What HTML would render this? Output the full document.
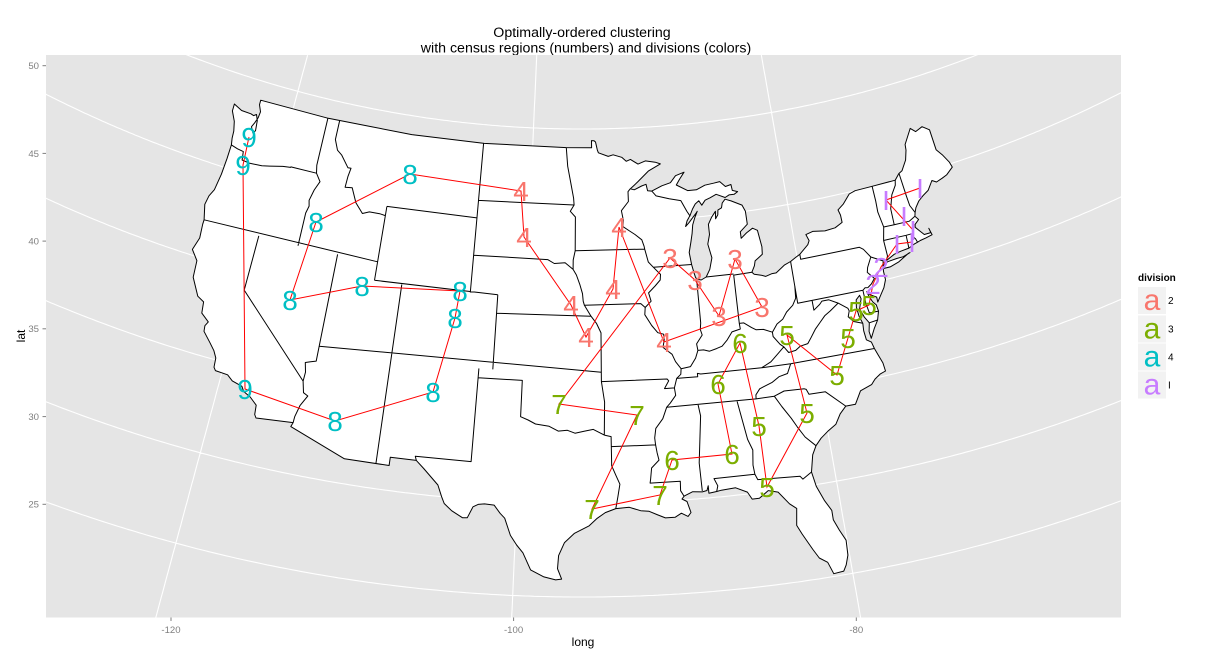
<!DOCTYPE html>
<html><head><meta charset="utf-8">
<style>
html,body{margin:0;padding:0;background:#fff;width:1212px;height:660px;overflow:hidden;}
svg{display:block;}
text{font-family:"Liberation Sans",Arial,sans-serif;}
</style></head>
<body>
<svg width="1212" height="660" viewBox="0 0 1212 660" xmlns="http://www.w3.org/2000/svg">
<defs><clipPath id="pc"><rect x="46" y="55" width="1075" height="562.5"/></clipPath></defs>
<rect x="0" y="0" width="1212" height="660" fill="#fff"/>
<text x="582" y="37" font-size="14.2" text-anchor="middle" fill="#000">Optimally-ordered clustering</text>
<text x="586" y="52.5" font-size="14.2" text-anchor="middle" fill="#000">with census regions (numbers) and divisions (colors)</text>
<rect x="46" y="55" width="1075" height="562.5" fill="#E5E5E5"/>
<g clip-path="url(#pc)">
<path id="grid" fill="none" stroke="#fff" stroke-width="1.1"/>
<path id="land" fill="#fff" stroke="#000" stroke-width="1" stroke-linejoin="round"/>
<path id="li" fill="#fff" stroke="#000" stroke-width="1" stroke-linejoin="round"/>
<path id="bord" fill="none" stroke="#000" stroke-width="1" stroke-linejoin="round"/>
<polyline fill="none" stroke="#FF0000" stroke-width="1" points="249,137 243,165 245,389 335,421 433,392 455,318 460,291 362,286 290,300 316,222 410,174 521,191 524,237 571,305 586,337 613,289 619,227 664,342 762,307 735,259 719,316 695,280 670,258 559,404 637,415 592,509 660,495 672,460 732,454 718,384 740,343 759,426 767,487 807,413 787,335 837,375 848,338 856,311 869,305 873,284 881,267 897,244 912,242 913,230 886,200 920,188"/>
<g font-size="28" text-anchor="middle" fill="#00BFC4">
<text x="249" y="147">9</text><text x="243" y="175">9</text><text x="410" y="184">8</text><text x="316" y="232">8</text><text x="290" y="310">8</text><text x="362" y="296">8</text><text x="460" y="301">8</text><text x="455" y="328">8</text><text x="245" y="399">9</text><text x="335" y="431">8</text><text x="433" y="402">8</text>
</g>
<g font-size="28" text-anchor="middle" fill="#F8766D">
<text x="521" y="201">4</text><text x="524" y="247">4</text><text x="571" y="315">4</text><text x="586" y="347">4</text><text x="613" y="299">4</text><text x="619" y="237">4</text><text x="664" y="352">4</text><text x="670" y="268">3</text><text x="695" y="290">3</text><text x="719" y="326">3</text><text x="735" y="269">3</text><text x="762" y="317">3</text>
</g>
<g font-size="28" text-anchor="middle" fill="#7CAE00">
<text x="559" y="414">7</text><text x="637" y="425">7</text><text x="592" y="519">7</text><text x="660" y="505">7</text><text x="672" y="470">6</text><text x="732" y="464">6</text><text x="718" y="394">6</text><text x="740" y="353">6</text><text x="759" y="436">5</text><text x="767" y="497">5</text><text x="807" y="423">5</text><text x="837" y="385">5</text><text x="787" y="345">5</text><text x="848" y="348">5</text><text x="856" y="321">5</text><text x="869" y="315">5</text>
</g>
<g font-size="28" text-anchor="middle" fill="#C77CFF">
<text x="886" y="210">I</text><text x="920" y="198">I</text><text x="904" y="226">I</text><text x="913" y="240">I</text><text x="897" y="254">I</text><text x="912" y="252">I</text><text x="873" y="294">2</text><text x="881" y="277">2</text>
</g>
</g>
<g stroke="#7F7F7F" stroke-width="1">
<line x1="42.5" y1="65.7" x2="46" y2="65.7"/><line x1="42.5" y1="153.4" x2="46" y2="153.4"/><line x1="42.5" y1="241.1" x2="46" y2="241.1"/><line x1="42.5" y1="328.8" x2="46" y2="328.8"/><line x1="42.5" y1="416.6" x2="46" y2="416.6"/><line x1="42.5" y1="504.3" x2="46" y2="504.3"/>
<line x1="171" y1="617.5" x2="171" y2="621" /><line x1="513.6" y1="617.5" x2="513.6" y2="621"/><line x1="856.3" y1="617.5" x2="856.3" y2="621"/>
</g>
<g font-size="9.6" fill="#7F7F7F" text-anchor="end">
<text x="39" y="69">50</text><text x="39" y="157">45</text><text x="39" y="244.5">40</text><text x="39" y="332">35</text><text x="39" y="420">30</text><text x="39" y="507.7">25</text>
</g>
<g font-size="9.6" fill="#7F7F7F" text-anchor="middle">
<text x="171" y="633">-120</text><text x="513.6" y="633">-100</text><text x="856.3" y="633">-80</text>
</g>
<text x="583" y="646" font-size="12" text-anchor="middle" fill="#000">long</text>
<text x="0" y="0" font-size="12" text-anchor="middle" fill="#000" transform="translate(25,336) rotate(-90)">lat</text>
<text x="1138" y="281" font-size="10" font-weight="bold" fill="#000">division</text>
<g fill="#F2F2F2">
<rect x="1138" y="287" width="28" height="27"/><rect x="1138" y="315.5" width="28" height="27"/><rect x="1138" y="343.5" width="28" height="27"/><rect x="1138" y="371.5" width="28" height="27"/>
</g>
<g font-size="30" text-anchor="middle">
<text x="1152" y="310" fill="#F8766D">a</text><text x="1152" y="338.5" fill="#7CAE00">a</text><text x="1152" y="366.5" fill="#00BFC4">a</text><text x="1152" y="394.5" fill="#C77CFF">a</text>
</g>
<g font-size="10" fill="#000">
<text x="1168" y="304">2</text><text x="1168" y="332.5">3</text><text x="1168" y="360.5">4</text><text x="1168" y="388.5">I</text>
</g>
</svg>
<script>
(function(){
function P(lo,la){var r=1090+(50-la)*18.72,t=(-2.55+0.628*(lo+100))*Math.PI/180;return [582+r*Math.sin(t),-961+r*Math.cos(t)];}
function ln(pts,close){return pts.map(function(p,i){var q=P(p[0],p[1]);return (i?'L':'M')+q[0].toFixed(1)+' '+q[1].toFixed(1);}).join('')+(close?'Z':'');}
function inside(q){return q[0]>=42&&q[0]<=1125&&q[1]>=51&&q[1]<=622;}
var g='';
function addPts(gen){var on=false;gen.forEach(function(q){if(inside(q)){g+=(on?'L':'M')+q[0].toFixed(1)+' '+q[1].toFixed(1);on=true;}else on=false;});}
[25,30,35,40,45,50].forEach(function(la){var a=[];for(var lo=-160;lo<=-40;lo+=0.25)a.push(P(lo,la));addPts(a);});
[-120,-100,-80].forEach(function(lo){var a=[];for(var la=0;la<=70;la+=0.25)a.push(P(lo,la));addPts(a);});
document.getElementById('grid').setAttribute('d',g);
var outline=[[-124.72,48.38],[-124.0,48.17],[-123.2,48.15],[-122.95,48.1],[-122.75,48.2],[-122.55,47.9],[-122.45,47.35],[-122.6,47.2],[-122.85,47.5],[-122.7,47.75],[-122.55,48.05],[-122.5,48.4],[-122.75,48.75],[-122.76,49.0],
[-117.0,49.0],[-110.0,49.0],[-104.0,49.0],[-97.23,49.0],[-95.15,49.0],[-95.15,49.38],[-94.95,49.37],[-94.82,49.3],[-94.68,48.88],[-94.6,48.72],[-93.8,48.52],[-93.4,48.6],[-92.7,48.45],[-92.35,48.23],[-92.0,48.32],[-91.4,48.05],[-90.8,48.2],[-90.0,48.1],[-89.6,47.99],
[-90.6,47.65],[-91.5,47.1],[-92.1,46.75],
[-91.8,46.69],[-91.2,46.87],[-90.85,46.95],[-90.75,46.6],[-90.42,46.57],
[-89.6,46.82],[-88.9,46.95],[-88.45,47.3],[-87.75,47.45],[-88.15,47.1],[-88.45,46.8],[-87.6,46.45],[-86.9,46.45],[-86.2,46.65],[-85.5,46.7],[-85.0,46.75],[-84.6,46.45],[-84.15,46.52],[-84.1,46.2],[-83.7,46.1],[-84.0,45.98],[-84.4,45.98],[-84.73,45.87],
[-85.4,46.1],[-85.9,45.95],[-86.3,45.85],[-86.6,45.6],[-86.8,45.85],[-87.1,45.7],[-87.35,45.45],[-87.6,45.1],
[-87.85,44.85],[-88.0,44.55],[-87.7,44.75],[-87.45,44.95],[-87.05,45.25],[-87.0,45.3],[-87.25,44.95],[-87.45,44.6],[-87.55,44.15],[-87.7,43.7],[-87.9,43.15],[-87.8,42.5],
[-87.68,42.05],[-87.6,41.8],[-87.52,41.7],[-87.2,41.63],[-86.82,41.76],
[-86.5,42.15],[-86.25,42.75],[-86.45,43.5],[-86.25,44.0],[-86.25,44.55],[-85.95,44.9],[-85.6,45.2],[-85.65,44.8],[-85.45,45.0],[-85.4,45.25],[-85.1,45.35],[-85.0,45.6],[-84.75,45.78],
[-84.3,45.65],[-83.5,45.35],[-83.3,45.0],[-83.3,44.3],[-83.9,43.95],[-83.9,43.6],[-83.45,43.85],[-82.95,44.05],[-82.6,43.9],[-82.45,43.0],[-82.5,42.6],[-82.8,42.45],[-83.1,42.3],[-83.2,42.05],[-83.45,41.73],
[-83.3,41.6],[-82.8,41.5],[-82.5,41.4],[-82.0,41.5],[-81.7,41.5],[-81.0,41.85],[-80.52,41.98],[-80.1,42.15],[-79.76,42.27],[-79.05,42.7],[-78.9,42.9],[-79.05,43.25],
[-78.5,43.35],[-77.6,43.25],[-76.8,43.3],[-76.2,43.5],[-76.2,43.9],[-76.3,44.2],[-75.8,44.45],[-75.2,44.9],[-74.7,45.0],
[-73.34,45.01],[-71.5,45.01],[-71.1,45.3],[-70.8,45.4],[-70.3,45.9],[-70.05,46.4],[-70.0,46.7],[-69.24,47.45],[-68.9,47.2],[-68.3,47.35],[-67.8,47.07],[-67.78,45.95],[-67.45,45.6],[-67.1,45.1],
[-67.0,44.8],[-67.6,44.5],[-68.0,44.4],[-68.5,44.3],[-68.8,44.45],[-69.3,44.0],[-69.8,43.8],[-70.2,43.6],[-70.55,43.3],[-70.7,43.07],[-70.8,42.87],[-70.6,42.65],[-70.95,42.45],[-71.0,42.3],[-70.7,42.0],[-70.5,41.8],[-70.0,41.8],[-70.05,42.05],[-69.95,41.67],[-70.45,41.6],[-70.9,41.55],[-71.12,41.5],[-71.4,41.45],[-71.85,41.32],[-72.5,41.27],[-73.0,41.2],[-73.65,40.98],[-73.85,40.82],[-74.0,40.7],
[-74.05,40.45],[-74.05,40.0],[-74.3,39.6],[-74.6,39.3],[-74.95,38.93],[-74.95,39.2],[-75.35,39.4],[-75.55,39.6],[-75.45,39.3],[-75.3,39.0],[-75.1,38.8],[-75.05,38.45],[-75.25,38.0],[-75.6,37.6],[-75.95,37.12],
[-76.0,37.5],[-75.85,37.95],[-76.1,38.3],[-76.3,38.8],[-76.05,39.3],[-76.1,39.5],[-76.4,39.3],[-76.5,38.9],[-76.45,38.4],[-76.3,38.0],[-76.35,37.6],[-76.3,37.1],[-76.0,36.92],
[-75.9,36.55],[-75.75,36.2],[-75.55,35.7],[-75.5,35.25],[-75.9,35.15],[-76.3,34.95],[-76.6,34.7],[-77.4,34.5],[-77.9,33.85],[-78.55,33.85],
[-79.0,33.5],[-79.4,33.0],[-80.0,32.7],[-80.5,32.4],[-80.9,32.05],[-81.2,31.6],[-81.45,30.7],
[-81.3,29.9],[-80.95,29.1],[-80.6,28.5],[-80.6,28.0],[-80.35,27.4],[-80.05,26.8],[-80.1,26.0],[-80.3,25.5],[-80.5,25.2],[-81.1,25.15],[-81.35,25.8],[-81.8,26.1],[-82.1,26.6],[-82.6,27.5],[-82.85,28.0],[-82.7,28.9],[-83.1,29.2],[-83.7,29.9],[-84.3,30.05],[-84.9,29.7],[-85.35,29.7],[-85.6,30.1],[-86.3,30.4],[-87.2,30.35],[-87.5,30.3],
[-88.0,30.25],[-88.0,30.65],[-88.1,30.4],[-88.4,30.35],[-89.0,30.4],[-89.55,30.2],
[-89.7,30.05],[-89.4,29.9],[-89.2,29.3],[-89.4,29.1],[-89.8,29.3],[-90.2,29.1],[-90.8,29.1],[-91.3,29.3],[-91.8,29.5],[-92.3,29.55],[-93.0,29.75],[-93.84,29.7],
[-94.5,29.5],[-95.0,29.2],[-95.5,28.8],[-96.4,28.4],[-97.0,27.9],[-97.35,27.2],[-97.4,26.5],[-97.15,25.95],
[-97.5,25.9],[-98.2,26.05],[-99.0,26.4],[-99.5,27.3],[-99.9,27.7],[-100.3,28.2],[-100.7,29.1],[-101.0,29.35],[-101.4,29.77],[-102.0,29.8],[-102.4,29.75],[-102.7,29.6],[-103.0,29.0],[-103.3,28.98],[-104.0,29.3],[-104.5,29.65],[-104.7,30.0],[-105.0,30.6],[-106.0,31.4],[-106.53,31.78],
[-108.2,31.78],[-108.2,31.33],[-111.07,31.33],[-114.81,32.49],[-114.72,32.72],[-117.12,32.53],
[-117.25,32.7],[-117.3,33.2],[-117.8,33.55],[-118.3,33.75],[-118.5,34.0],[-119.2,34.15],[-119.6,34.4],[-120.45,34.45],[-120.6,34.6],[-120.65,35.1],[-120.9,35.45],[-121.3,35.8],[-121.9,36.3],[-121.95,36.6],[-121.8,36.85],[-122.4,37.2],[-122.5,37.8],[-123.0,38.0],[-123.7,38.9],[-123.8,39.8],[-124.35,40.3],[-124.1,41.0],[-124.2,41.75],[-124.2,42.0],
[-124.5,42.8],[-124.4,43.3],[-124.15,43.7],[-124.0,44.6],[-123.95,45.5],[-123.95,46.25],
[-124.05,46.6],[-124.1,47.0],[-124.3,47.5],[-124.7,48.0]];
document.getElementById('land').setAttribute('d',ln(outline,true));
document.getElementById('li').setAttribute('d',ln([[-74.0,40.6],[-73.5,40.6],[-72.8,40.75],[-72.0,41.05],[-71.86,41.07],[-72.4,40.95],[-72.9,40.95],[-73.6,40.9],[-73.95,40.75]],true));
var B=[
[[-123.95,46.25],[-123.4,46.15],[-122.9,46.1],[-122.8,45.65],[-122.2,45.6],[-121.2,45.65],[-120.6,45.75],[-119.6,45.92],[-119.0,45.97],[-118.98,46.0],[-116.92,46.0]],
[[-117.04,49.0],[-117.04,46.42],[-116.92,46.0]],
[[-116.92,46.0],[-116.5,45.6],[-116.8,45.1],[-117.0,44.5],[-116.9,44.2],[-117.03,43.8],[-117.03,42.0]],
[[-124.2,42.0],[-111.05,42.0]],
[[-116.05,49.0],[-116.05,47.98],[-115.7,47.45],[-115.3,47.25],[-114.6,46.65],[-114.35,46.65],[-114.45,46.2],[-114.5,45.6],[-113.95,45.65],[-113.45,44.9],[-112.8,44.4],[-112.3,44.55],[-111.5,44.55],[-111.05,44.5]],
[[-111.05,45.0],[-111.05,41.0]],
[[-111.05,45.0],[-104.05,45.0]],
[[-104.05,49.0],[-104.05,41.0]],
[[-111.05,41.0],[-102.05,41.0]],
[[-114.04,42.0],[-114.04,36.19],[-114.4,36.1],[-114.74,36.0],[-114.6,35.5],[-114.63,35.0]],
[[-120.0,42.0],[-120.0,39.0],[-114.63,35.0]],
[[-114.63,35.0],[-114.45,34.4],[-114.13,34.27],[-114.5,33.7],[-114.7,33.05],[-114.72,32.72]],
[[-114.04,37.0],[-94.62,37.0]],
[[-109.05,41.0],[-109.05,31.33]],
[[-102.05,41.0],[-102.05,37.0]],
[[-102.05,40.0],[-95.3,40.0]],
[[-103.0,37.0],[-103.04,32.0],[-106.62,32.0],[-106.53,31.78]],
[[-103.0,36.5],[-100.0,36.5],[-100.0,34.56],[-99.5,34.4],[-99.0,34.2],[-98.1,34.1],[-97.5,33.85],[-96.9,33.9],[-96.4,33.75],[-95.8,33.85],[-95.2,33.95],[-94.48,33.64]],
[[-94.62,37.0],[-94.62,36.5],[-94.43,35.4],[-94.48,33.64]],
[[-94.48,33.64],[-94.04,33.55],[-94.04,31.99],[-93.8,31.5],[-93.55,31.0],[-93.7,30.3],[-93.84,29.7]],
[[-94.04,33.02],[-91.17,33.02]],
[[-91.17,33.02],[-91.1,32.6],[-91.0,32.2],[-91.5,31.8],[-91.6,31.2],[-91.64,31.0],[-89.73,31.0],[-89.75,30.5],[-89.55,30.18]],
[[-94.62,36.5],[-90.15,36.5],[-90.05,36.4],[-90.37,36.0],[-89.7,36.0]],
[[-92.12,46.75],[-92.3,46.6],[-92.3,46.08],[-92.87,45.6],[-92.75,45.1],[-92.8,44.75],[-92.3,44.5],[-91.9,44.3],[-91.4,44.0],[-91.25,43.65],[-91.22,43.5],[-91.0,42.8],[-90.64,42.5],[-90.15,42.1],[-90.2,41.8],[-90.6,41.5],[-91.1,41.15],[-90.95,40.7],[-91.4,40.38],[-91.45,40.0],[-91.0,39.4],[-90.6,39.0],[-90.2,38.9],[-90.18,38.6],[-90.3,38.2],[-89.7,37.8],[-89.5,37.4],[-89.15,37.0],[-89.2,36.7],[-89.5,36.5],[-89.7,36.0],[-89.65,35.6],[-90.05,35.2],[-90.3,35.0],[-90.6,34.4],[-91.1,33.9],[-91.2,33.4],[-91.17,33.02]],
[[-104.05,45.94],[-96.56,45.94]],
[[-97.23,49.0],[-97.1,48.0],[-96.8,47.0],[-96.6,46.3],[-96.56,45.94],[-96.85,45.6],[-96.45,45.3],[-96.45,43.5],[-96.6,43.0],[-96.6,42.5]],
[[-104.05,43.0],[-98.5,43.0],[-98.0,42.8],[-97.2,42.85],[-96.6,42.5]],
[[-96.6,42.5],[-96.35,42.2],[-96.1,41.7],[-95.9,41.2],[-95.85,40.8],[-95.77,40.58],[-95.3,40.0],[-94.9,39.6],[-94.6,39.1],[-94.62,37.0]],
[[-96.45,43.5],[-91.22,43.5]],
[[-95.77,40.58],[-91.7,40.6],[-91.4,40.38]],
[[-90.64,42.5],[-87.8,42.5]],
[[-90.42,46.57],[-90.1,46.3],[-89.1,46.1],[-88.2,45.95],[-88.1,45.8],[-87.8,45.35],[-87.6,45.1]],
[[-87.53,41.7],[-87.53,39.35],[-87.6,39.0],[-87.5,38.7],[-87.95,38.25],[-87.9,37.9]],
[[-89.15,37.0],[-88.5,37.07],[-88.1,37.5],[-87.9,37.9],[-87.5,37.9],[-87.1,37.8],[-86.6,37.9],[-86.2,38.0],[-85.8,38.3],[-85.4,38.7],[-84.8,38.8],[-84.82,39.1],[-84.5,39.1],[-84.0,38.8],[-83.7,38.65],[-83.2,38.62],[-82.6,38.4],[-82.2,38.8],[-81.75,39.0],[-81.4,39.35],[-80.9,39.65],[-80.6,40.0],[-80.52,40.64]],
[[-84.82,39.1],[-84.8,41.7],[-83.45,41.73]],
[[-86.82,41.76],[-84.8,41.76]],
[[-89.5,36.5],[-88.07,36.5],[-88.07,36.68],[-87.85,36.63],[-86.0,36.63],[-83.68,36.6]],
[[-83.68,36.6],[-83.0,36.85],[-82.4,37.25],[-81.97,37.54],[-82.2,37.7],[-82.6,38.17],[-82.6,38.4]],
[[-83.68,36.6],[-81.68,36.59],[-75.9,36.55]],
[[-81.68,36.59],[-82.0,36.1],[-82.6,36.0],[-83.1,35.75],[-84.0,35.5],[-84.3,35.2],[-84.32,34.99]],
[[-84.32,34.99],[-90.3,35.0]],
[[-78.55,33.85],[-79.7,34.8],[-80.8,34.82],[-80.93,35.1],[-81.05,35.15],[-82.4,35.2],[-83.1,35.0],[-84.32,34.99]],
[[-83.1,35.0],[-82.7,34.4],[-82.2,33.7],[-81.9,33.2],[-81.5,32.6],[-80.9,32.05]],
[[-85.6,34.98],[-85.2,32.9],[-84.95,32.3],[-85.05,31.5],[-85.0,31.0]],
[[-81.45,30.7],[-82.05,30.4],[-82.2,30.57],[-84.86,30.7],[-85.0,31.0],[-87.6,31.0],[-87.4,30.6],[-87.5,30.3]],
[[-88.2,35.0],[-88.1,34.4],[-88.45,31.9],[-88.4,30.4]],
[[-80.52,40.64],[-80.52,39.72],[-75.79,39.72],[-75.6,39.83],[-75.4,39.8]],
[[-80.52,40.64],[-80.52,41.98]],
[[-79.48,39.72],[-79.48,39.2],[-79.0,39.45],[-78.8,39.6],[-78.3,39.6],[-77.7,39.33],[-78.35,39.0],[-78.8,38.8],[-79.2,38.5],[-79.6,38.2],[-80.0,37.8],[-80.3,37.5],[-80.85,37.43],[-81.2,37.25],[-81.7,37.2],[-81.97,37.54]],
[[-77.7,39.33],[-77.1,38.95],[-77.05,38.8],[-77.2,38.5],[-76.9,38.2],[-76.3,38.0]],
[[-75.79,39.72],[-75.79,39.0],[-75.7,38.46],[-75.05,38.45]],
[[-75.25,38.0],[-75.85,37.95]],
[[-79.76,42.27],[-79.76,42.0],[-75.35,42.0],[-75.1,41.85],[-74.7,41.36]],
[[-74.7,41.36],[-75.1,40.85],[-75.2,40.6],[-74.8,40.2],[-75.1,39.95],[-75.4,39.8]],
[[-74.7,41.36],[-73.9,41.0],[-74.0,40.7]],
[[-73.34,45.01],[-73.35,44.2],[-73.4,43.6],[-73.25,42.75],[-73.5,42.05],[-73.5,41.2],[-73.65,40.98]],
[[-71.5,45.01],[-71.6,44.75],[-72.05,44.3],[-72.4,43.6],[-72.45,42.73]],
[[-73.25,42.75],[-72.45,42.73],[-71.3,42.7],[-70.8,42.87]],
[[-71.08,45.3],[-71.0,44.0],[-70.95,43.5],[-70.7,43.07]],
[[-73.5,42.05],[-71.8,42.02],[-71.38,42.02],[-71.38,41.9],[-71.2,41.7],[-71.12,41.5]],
[[-71.8,42.02],[-71.85,41.32]]
];
document.getElementById('bord').setAttribute('d',B.map(function(a){return ln(a);}).join(''));
})();
</script>
</body></html>
